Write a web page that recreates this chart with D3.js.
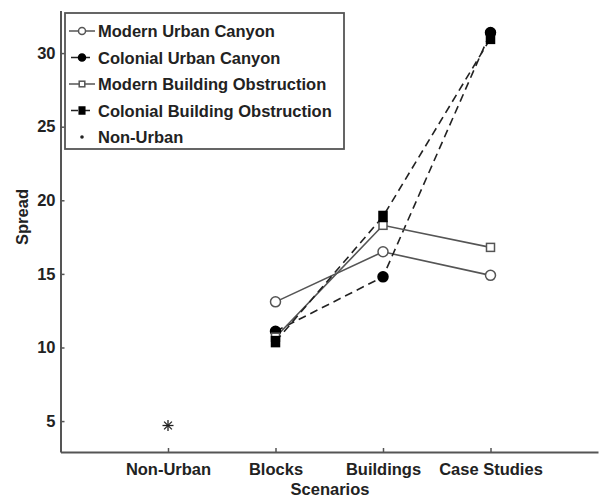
<!DOCTYPE html>
<html>
<head>
<meta charset="utf-8">
<script src="https://cdn.jsdelivr.net/npm/d3@7"></script>
<style>
  html, body { margin: 0; padding: 0; background: #fff; }
  svg { display: block; }
  text { font-family: "Liberation Sans", Arial, sans-serif; font-weight: bold; fill: #222; }
</style>
</head>
<body>
<svg id="chart" width="606" height="499"></svg>
<script>
// Scenario categories along the x axis (positions 1..4)
const scenarios = ["Non-Urban", "Blocks", "Buildings", "Case Studies"];
const yTicks = [5, 10, 15, 20, 25, 30];

// Spread per scenario (Blocks, Buildings, Case Studies)
const urbanScenarios = ["Blocks", "Buildings", "Case Studies"];
const modernUrbanCanyon = [13.1, 16.5, 14.9];
const colonialUrbanCanyon = [11.1, 14.8, 31.4];
const modernBuildingObstruction = [10.7, 18.3, 16.8];
const colonialBuildingObstruction = [10.4, 18.9, 31.0];
const nonUrban = [4.7];

const series = [
  { name: "Modern Urban Canyon", values: modernUrbanCanyon, marker: "circle", filled: false, dashed: false },
  { name: "Colonial Urban Canyon", values: colonialUrbanCanyon, marker: "circle", filled: true, dashed: true },
  { name: "Modern Building Obstruction", values: modernBuildingObstruction, marker: "square", filled: false, dashed: false },
  { name: "Colonial Building Obstruction", values: colonialBuildingObstruction, marker: "square", filled: true, dashed: true },
  { name: "Non-Urban", values: nonUrban, marker: "star", filled: true, dashed: false, cats: ["Non-Urban"] }
];

const svg = d3.select("#chart");
const axisColor = "#555";
const grey = "#555";
const fontSize = 16.5;

const x = d3.scaleLinear().domain([0, 5]).range([60.5, 598]);
const y = d3.scaleLinear().domain([2.9, 32.9]).range([452, 10.4]);
const xPos = c => x(scenarios.indexOf(c) + 1);

// Axes: left and bottom only, ticks pointing inward
const gx = svg.append("g").attr("transform", `translate(0,${y.range()[0]})`)
  .call(d3.axisBottom(x).tickValues([1, 2, 3, 4]).tickFormat(d => scenarios[d - 1])
    .tickSizeInner(-4).tickSizeOuter(0).tickPadding(11));
gx.select(".domain").attr("stroke", axisColor).attr("stroke-width", 2);
gx.selectAll(".tick line").attr("stroke", axisColor).attr("stroke-width", 1.5);
gx.selectAll(".tick text").attr("font-size", fontSize).attr("font-family", "Liberation Sans, Arial, sans-serif")
  .attr("font-weight", "bold").attr("fill", "#222");

const gy = svg.append("g").attr("transform", `translate(${x.range()[0]},0)`)
  .call(d3.axisLeft(y).tickValues(yTicks).tickSizeInner(-4).tickSizeOuter(0).tickPadding(5));
gy.select(".domain").attr("stroke", axisColor).attr("stroke-width", 2);
gy.selectAll(".tick line").attr("stroke", axisColor).attr("stroke-width", 1.5);
gy.selectAll(".tick text").attr("font-size", fontSize).attr("font-family", "Liberation Sans, Arial, sans-serif")
  .attr("font-weight", "bold").attr("fill", "#222");

// Axis titles
svg.append("text").attr("x", 330).attr("y", 495).attr("text-anchor", "middle")
  .attr("font-size", fontSize).text("Scenarios");
svg.append("text").attr("transform", "translate(28,217) rotate(-90)").attr("text-anchor", "middle")
  .attr("font-size", fontSize).text("Spread");

// Marker drawing helper
function drawMarker(g, type, filled, cx, cy, size) {
  if (type === "circle") {
    g.append("circle").attr("cx", cx).attr("cy", cy).attr("r", size)
      .attr("fill", filled ? "#000" : "#fff").attr("stroke", filled ? "#000" : grey).attr("stroke-width", 1.5);
  } else if (type === "square") {
    const w = size * 2, h = filled ? size * 2.5 : size * 2;
    g.append("rect").attr("x", cx - w / 2).attr("y", cy - h / 2).attr("width", w).attr("height", h)
      .attr("fill", filled ? "#000" : "#fff").attr("stroke", filled ? "#000" : grey).attr("stroke-width", 1.5);
  } else if (type === "star") {
    const r = size;
    for (let a = 0; a < 4; a++) {
      const ang = a * Math.PI / 4;
      g.append("line")
        .attr("x1", cx - r * Math.cos(ang)).attr("y1", cy - r * Math.sin(ang))
        .attr("x2", cx + r * Math.cos(ang)).attr("y2", cy + r * Math.sin(ang))
        .attr("stroke", "#222").attr("stroke-width", 1.3);
    }
  } else if (type === "dot") {
    g.append("circle").attr("cx", cx).attr("cy", cy).attr("r", size).attr("fill", "#222");
  }
}

// Lines and markers
const line = d3.line().x(d => d[0]).y(d => d[1]);
const plot = svg.append("g");
series.forEach(s => {
  const cats = s.cats || urbanScenarios;
  const pts = s.values.map((v, i) => [xPos(cats[i]), y(v)]);
  if (pts.length > 1) {
    plot.append("path").attr("d", line(pts)).attr("fill", "none")
      .attr("stroke", s.dashed ? "#222" : grey).attr("stroke-width", 1.6)
      .attr("stroke-dasharray", s.dashed ? "8,5" : null);
  }
});
series.forEach(s => {
  const cats = s.cats || urbanScenarios;
  s.values.forEach((v, i) => {
    drawMarker(plot, s.marker, s.filled, xPos(cats[i]), y(v), s.marker === "star" ? 5.5 : (s.marker === "square" ? 4 : 5));
  });
});

// Legend
const leg = svg.append("g");
leg.append("rect").attr("x", 65).attr("y", 13).attr("width", 279).attr("height", 136)
  .attr("fill", "#fff").attr("stroke", axisColor).attr("stroke-width", 1.8);
series.forEach((s, i) => {
  const cy = 31 + i * 26.5;
  if (s.marker !== "star") {
    leg.append("line").attr("x1", 69).attr("x2", 95).attr("y1", cy).attr("y2", cy)
      .attr("stroke", s.dashed ? "#222" : grey).attr("stroke-width", 1.5)
      .attr("stroke-dasharray", s.dashed ? "7,5" : null).attr("stroke-dashoffset", s.dashed ? -2 : 0);
    drawMarker(leg, s.marker, s.filled, 82, cy, s.marker === "square" ? 2.8 : 3.5);
  } else {
    drawMarker(leg, "dot", true, 82, cy, 1.8);
  }
  leg.append("text").attr("x", 98).attr("y", cy + 6).attr("font-size", fontSize).text(s.name);
});
</script>
</body>
</html>
